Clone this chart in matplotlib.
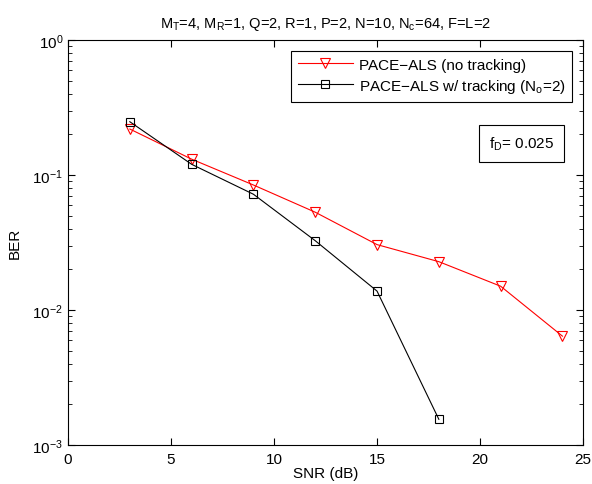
import numpy as np
import matplotlib
matplotlib.use('Agg')
import matplotlib.pyplot as plt
from matplotlib.ticker import LogLocator, NullFormatter

plt.rcParams['font.family'] = ['Liberation Sans', 'DejaVu Sans']
plt.rcParams['mathtext.fontset'] = 'custom'
plt.rcParams['mathtext.rm'] = 'Liberation Sans'
plt.rcParams['mathtext.it'] = 'Liberation Sans'
plt.rcParams['mathtext.default'] = 'regular'

# SNR points and BER values
snr_no_track = [3, 6, 9, 12, 15, 18, 21, 24]
ber_no_track = [0.219, 0.131, 0.0843, 0.053, 0.0305, 0.0228, 0.015, 0.0064]
snr_track = [3, 6, 9, 12, 15, 18]
ber_track = [0.248, 0.12, 0.072, 0.0326, 0.0138, 0.00155]

labels = ['PACE\u2212ALS (no tracking)', 'PACE\u2212ALS w/ tracking (N$_o$=2)']

fig = plt.figure(figsize=(5.92, 4.85), dpi=100)
ax = fig.add_axes([0.1149, 0.0804, 0.870, 0.8351])

ax.semilogy(snr_no_track, ber_no_track, color='red', lw=0.8, marker='v',
            ms=7.5, mfc='none', mec='red', mew=0.8, label=labels[0])
ax.semilogy(snr_track, ber_track, color='black', lw=0.8, marker='s',
            ms=6, mfc='none', mec='black', mew=0.8, label=labels[1])

ax.set_xlim(0, 25)
ax.set_ylim(1e-3, 1)
ax.set_xticks([0, 5, 10, 15, 20, 25])
ax.yaxis.set_major_locator(LogLocator(base=10, numticks=10))
ax.yaxis.set_minor_locator(LogLocator(base=10, subs=np.arange(2, 10), numticks=10))
ax.yaxis.set_minor_formatter(NullFormatter())
ax.tick_params(which='both', direction='in', top=True, right=True, labelsize=11)
ax.tick_params(axis='x', pad=5)
ax.tick_params(which='major', length=5, width=0.8)
ax.tick_params(which='minor', length=3, width=0.6)
for s in ax.spines.values():
    s.set_linewidth(0.8)

ax.set_xlabel('SNR (dB)', fontsize=11, labelpad=0)
ax.set_ylabel('BER', fontsize=11, labelpad=8)
ax.set_title('M$_T$=4, M$_R$=1, Q=2, R=1, P=2, N=10, N$_c$=64, F=L=2',
             fontsize=10.5, pad=9)

leg = ax.legend(loc='upper right', bbox_to_anchor=(0.979, 0.973), fontsize=11,
                fancybox=False, edgecolor='black', framealpha=1,
                handlelength=3.6, borderpad=0.45, labelspacing=0.32,
                handletextpad=0.4, borderaxespad=0)
leg.get_frame().set_linewidth(0.8)

ax.text(0.944, 0.745, 'f$_D$= 0.025', transform=ax.transAxes, fontsize=11,
        ha='right', va='center',
        bbox=dict(boxstyle='square,pad=0.65', fc='white', ec='black', lw=0.8))

fig.savefig('out.png', dpi=100)
